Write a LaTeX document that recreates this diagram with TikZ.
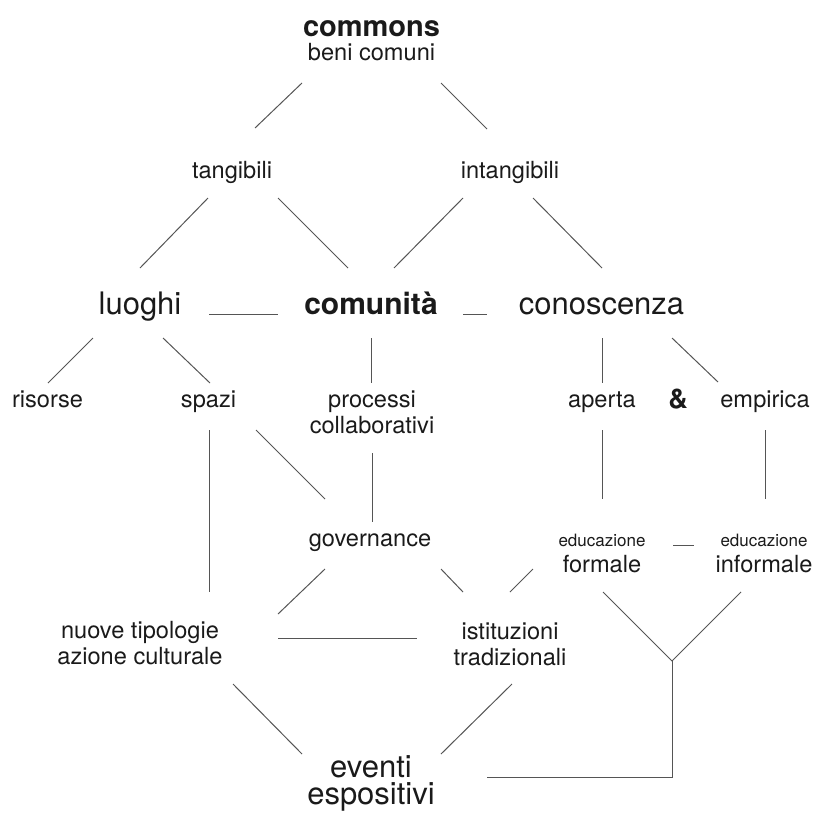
\documentclass[tikz,border=0pt]{standalone}
\usepackage{fontspec}
\setmainfont{TeX Gyre Heros}
\definecolor{ink}{HTML}{1A1A1A}
\definecolor{wire}{HTML}{555555}
\newcommand\edu{{\fontsize{17}{20}\selectfont educazione}}

\begin{document}
\begin{tikzpicture}[x=1pt,y=-1pt,
  lbl/.style={anchor=base,inner sep=0pt,text=ink,align=center},
  big/.style={lbl,font=\fontsize{31}{27}\selectfont},
  mid/.style={lbl,font=\fontsize{23.6}{26.5}\selectfont},
  link/.style={draw=wire,line width=1pt}]
  \useasboundingbox (0,0) rectangle (816,814);
  % labels (two-line labels sit on their last line)
  \node[mid,font=\fontsize{23.6}{24}\selectfont] (commons) at (371.5,60) {{\fontsize{29}{29}\selectfont\bfseries commons}\\beni comuni};
  \node[mid] (tang) at (232,178) {tangibili};
  \node[mid] (intang) at (510,178) {intangibili};
  \node[big] (luoghi) at (140,314) {luoghi};
  \node[big,font=\fontsize{30}{27}\selectfont\bfseries] (comunita) at (371,314) {comunità};
  \node[big] (conosc) at (601.5,314) {conoscenza};
  \node[mid] (risorse) at (47.5,407) {risorse};
  \node[mid] (spazi) at (208.5,407) {spazi};
  \node[mid] (processi) at (372,433.5) {processi\\collaborativi};
  \node[mid] (aperta) at (602,407) {aperta};
  \node[mid,font=\fontsize{27}{26}\selectfont\bfseries] (and) at (678,408) {\&};
  \node[mid] (empirica) at (765,407) {empirica};
  \node[mid] (gov) at (370,546) {governance};
  \node[mid] (formale) at (602,572.5) {\edu\\formale};
  \node[mid] (informale) at (764,572.5) {\edu\\informale};
  \node[mid] (nuove) at (140,664.5) {nuove tipologie\\azione culturale};
  \node[mid] (istit) at (510,665.5) {istituzioni\\tradizionali};
  \node[big] (eventi) at (371,804) {eventi\\espositivi};
  % connectors
  \draw[link] ([shift={(-69.5,23)}]commons.base) -- ([shift={(23,-50)}]tang.base);
  \draw[link] ([shift={(69.5,23)}]commons.base) -- ([shift={(-23,-49)}]intang.base);
  \draw[link] ([shift={(-24,20)}]tang.base) -- ([shift={(0,-46)}]luoghi.base);
  \draw[link] ([shift={(46,20)}]tang.base) -- ([shift={(-23,-46)}]comunita.base);
  \draw[link] ([shift={(-47,20)}]intang.base) -- ([shift={(23,-46)}]comunita.base);
  \draw[link] ([shift={(23,20)}]intang.base) -- ([shift={(0.5,-46)}]conosc.base);
  \draw[link] ([shift={(69,0)}]luoghi.base) -- ([shift={(-93,0)}]comunita.base);
  \draw[link] ([shift={(92,0)}]comunita.base) -- ([shift={(-114.5,0)}]conosc.base);
  \draw[link] ([shift={(-47,24)}]luoghi.base) -- ([shift={(0.5,-24)}]risorse.base);
  \draw[link] ([shift={(23,24)}]luoghi.base) -- ([shift={(1.5,-24)}]spazi.base);
  \draw[link] ([shift={(0,24)}]comunita.base) -- ([shift={(-1,-50.5)}]processi.base);
  \draw[link] ([shift={(0.5,24)}]conosc.base) -- ([shift={(0,-24)}]aperta.base);
  \draw[link] ([shift={(70.5,24)}]conosc.base) -- ([shift={(-47,-25)}]empirica.base);
  \draw[link] ([shift={(0.5,23)}]spazi.base) -- ([shift={(69,-72.5)}]nuove.base);
  \draw[link] ([shift={(47.5,23)}]spazi.base) -- ([shift={(-45,-47)}]gov.base);
  \draw[link] ([shift={(0,19.5)}]processi.base) -- ([shift={(2,-24)}]gov.base);
  \draw[link] ([shift={(0,23)}]aperta.base) -- ([shift={(0,-73.5)}]formale.base);
  \draw[link] ([shift={(0,23)}]empirica.base) -- ([shift={(1,-73.5)}]informale.base);
  \draw[link] ([shift={(71,-27.5)}]formale.base) -- ([shift={(-70,-27.5)}]informale.base);
  \draw[link] ([shift={(-45,23)}]gov.base) -- ([shift={(138,-50.5)}]nuove.base);
  \draw[link] ([shift={(71,23)}]gov.base) -- ([shift={(-47,-73.5)}]istit.base);
  \draw[link] ([shift={(-69,-3.5)}]formale.base) -- ([shift={(0,-73.5)}]istit.base);
  \draw[link] ([shift={(138,-26.5)}]nuove.base) -- ([shift={(-93,-27.5)}]istit.base);
  \draw[link] ([shift={(93,19.5)}]nuove.base) -- ([shift={(-69,-50)}]eventi.base);
  \draw[link] ([shift={(2,18.5)}]istit.base) -- ([shift={(70,-50)}]eventi.base);
  % the two kinds of education meet and run down to the events
  \coordinate (fork) at (672,661);
  \draw[link] ([shift={(1,19.5)}]formale.base) -- (fork) -- ([shift={(-23,19.5)}]informale.base);
  \draw[link] (fork) |- ([shift={(116,-27)}]eventi.base);
\end{tikzpicture}
\end{document}
